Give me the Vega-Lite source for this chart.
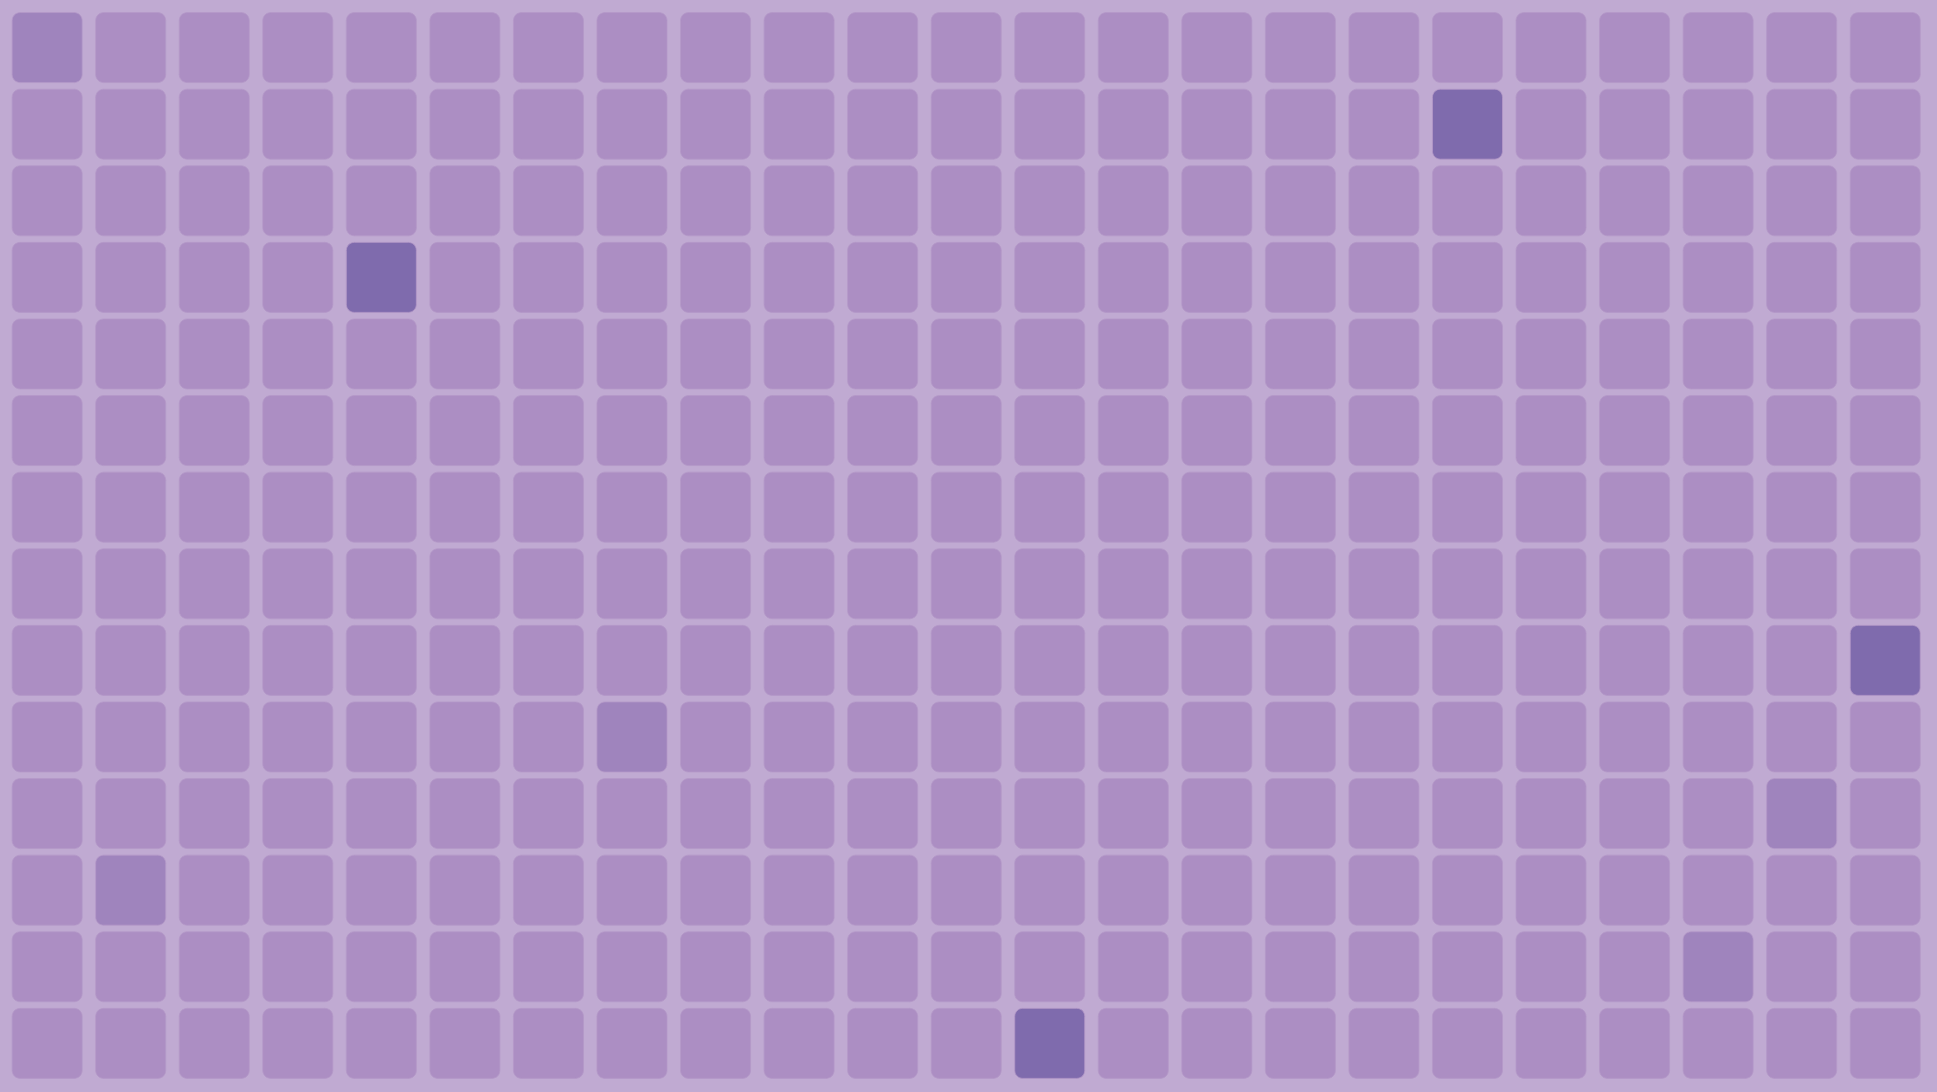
{
"$schema": "https://vega.github.io/schema/vega-lite/v6.json",
"width": 1937, "height": 1092, "autosize": "none", "padding": 0,
"background": "#C0AAD2",
"config": {"view": {"stroke": null}},
"data": {"values": [
{"c":0,"r":0,"v":2},{"c":1,"r":0,"v":1},{"c":2,"r":0,"v":1},{"c":3,"r":0,"v":1},{"c":4,"r":0,"v":1},{"c":5,"r":0,"v":1},{"c":6,"r":0,"v":1},{"c":7,"r":0,"v":1},{"c":8,"r":0,"v":1},{"c":9,"r":0,"v":1},{"c":10,"r":0,"v":1},{"c":11,"r":0,"v":1},{"c":12,"r":0,"v":1},{"c":13,"r":0,"v":1},{"c":14,"r":0,"v":1},{"c":15,"r":0,"v":1},{"c":16,"r":0,"v":1},{"c":17,"r":0,"v":1},{"c":18,"r":0,"v":1},{"c":19,"r":0,"v":1},{"c":20,"r":0,"v":1},{"c":21,"r":0,"v":1},{"c":22,"r":0,"v":1},
{"c":0,"r":1,"v":1},{"c":1,"r":1,"v":1},{"c":2,"r":1,"v":1},{"c":3,"r":1,"v":1},{"c":4,"r":1,"v":1},{"c":5,"r":1,"v":1},{"c":6,"r":1,"v":1},{"c":7,"r":1,"v":1},{"c":8,"r":1,"v":1},{"c":9,"r":1,"v":1},{"c":10,"r":1,"v":1},{"c":11,"r":1,"v":1},{"c":12,"r":1,"v":1},{"c":13,"r":1,"v":1},{"c":14,"r":1,"v":1},{"c":15,"r":1,"v":1},{"c":16,"r":1,"v":1},{"c":17,"r":1,"v":3},{"c":18,"r":1,"v":1},{"c":19,"r":1,"v":1},{"c":20,"r":1,"v":1},{"c":21,"r":1,"v":1},{"c":22,"r":1,"v":1},
{"c":0,"r":2,"v":1},{"c":1,"r":2,"v":1},{"c":2,"r":2,"v":1},{"c":3,"r":2,"v":1},{"c":4,"r":2,"v":1},{"c":5,"r":2,"v":1},{"c":6,"r":2,"v":1},{"c":7,"r":2,"v":1},{"c":8,"r":2,"v":1},{"c":9,"r":2,"v":1},{"c":10,"r":2,"v":1},{"c":11,"r":2,"v":1},{"c":12,"r":2,"v":1},{"c":13,"r":2,"v":1},{"c":14,"r":2,"v":1},{"c":15,"r":2,"v":1},{"c":16,"r":2,"v":1},{"c":17,"r":2,"v":1},{"c":18,"r":2,"v":1},{"c":19,"r":2,"v":1},{"c":20,"r":2,"v":1},{"c":21,"r":2,"v":1},{"c":22,"r":2,"v":1},
{"c":0,"r":3,"v":1},{"c":1,"r":3,"v":1},{"c":2,"r":3,"v":1},{"c":3,"r":3,"v":1},{"c":4,"r":3,"v":3},{"c":5,"r":3,"v":1},{"c":6,"r":3,"v":1},{"c":7,"r":3,"v":1},{"c":8,"r":3,"v":1},{"c":9,"r":3,"v":1},{"c":10,"r":3,"v":1},{"c":11,"r":3,"v":1},{"c":12,"r":3,"v":1},{"c":13,"r":3,"v":1},{"c":14,"r":3,"v":1},{"c":15,"r":3,"v":1},{"c":16,"r":3,"v":1},{"c":17,"r":3,"v":1},{"c":18,"r":3,"v":1},{"c":19,"r":3,"v":1},{"c":20,"r":3,"v":1},{"c":21,"r":3,"v":1},{"c":22,"r":3,"v":1},
{"c":0,"r":4,"v":1},{"c":1,"r":4,"v":1},{"c":2,"r":4,"v":1},{"c":3,"r":4,"v":1},{"c":4,"r":4,"v":1},{"c":5,"r":4,"v":1},{"c":6,"r":4,"v":1},{"c":7,"r":4,"v":1},{"c":8,"r":4,"v":1},{"c":9,"r":4,"v":1},{"c":10,"r":4,"v":1},{"c":11,"r":4,"v":1},{"c":12,"r":4,"v":1},{"c":13,"r":4,"v":1},{"c":14,"r":4,"v":1},{"c":15,"r":4,"v":1},{"c":16,"r":4,"v":1},{"c":17,"r":4,"v":1},{"c":18,"r":4,"v":1},{"c":19,"r":4,"v":1},{"c":20,"r":4,"v":1},{"c":21,"r":4,"v":1},{"c":22,"r":4,"v":1},
{"c":0,"r":5,"v":1},{"c":1,"r":5,"v":1},{"c":2,"r":5,"v":1},{"c":3,"r":5,"v":1},{"c":4,"r":5,"v":1},{"c":5,"r":5,"v":1},{"c":6,"r":5,"v":1},{"c":7,"r":5,"v":1},{"c":8,"r":5,"v":1},{"c":9,"r":5,"v":1},{"c":10,"r":5,"v":1},{"c":11,"r":5,"v":1},{"c":12,"r":5,"v":1},{"c":13,"r":5,"v":1},{"c":14,"r":5,"v":1},{"c":15,"r":5,"v":1},{"c":16,"r":5,"v":1},{"c":17,"r":5,"v":1},{"c":18,"r":5,"v":1},{"c":19,"r":5,"v":1},{"c":20,"r":5,"v":1},{"c":21,"r":5,"v":1},{"c":22,"r":5,"v":1},
{"c":0,"r":6,"v":1},{"c":1,"r":6,"v":1},{"c":2,"r":6,"v":1},{"c":3,"r":6,"v":1},{"c":4,"r":6,"v":1},{"c":5,"r":6,"v":1},{"c":6,"r":6,"v":1},{"c":7,"r":6,"v":1},{"c":8,"r":6,"v":1},{"c":9,"r":6,"v":1},{"c":10,"r":6,"v":1},{"c":11,"r":6,"v":1},{"c":12,"r":6,"v":1},{"c":13,"r":6,"v":1},{"c":14,"r":6,"v":1},{"c":15,"r":6,"v":1},{"c":16,"r":6,"v":1},{"c":17,"r":6,"v":1},{"c":18,"r":6,"v":1},{"c":19,"r":6,"v":1},{"c":20,"r":6,"v":1},{"c":21,"r":6,"v":1},{"c":22,"r":6,"v":1},
{"c":0,"r":7,"v":1},{"c":1,"r":7,"v":1},{"c":2,"r":7,"v":1},{"c":3,"r":7,"v":1},{"c":4,"r":7,"v":1},{"c":5,"r":7,"v":1},{"c":6,"r":7,"v":1},{"c":7,"r":7,"v":1},{"c":8,"r":7,"v":1},{"c":9,"r":7,"v":1},{"c":10,"r":7,"v":1},{"c":11,"r":7,"v":1},{"c":12,"r":7,"v":1},{"c":13,"r":7,"v":1},{"c":14,"r":7,"v":1},{"c":15,"r":7,"v":1},{"c":16,"r":7,"v":1},{"c":17,"r":7,"v":1},{"c":18,"r":7,"v":1},{"c":19,"r":7,"v":1},{"c":20,"r":7,"v":1},{"c":21,"r":7,"v":1},{"c":22,"r":7,"v":1},
{"c":0,"r":8,"v":1},{"c":1,"r":8,"v":1},{"c":2,"r":8,"v":1},{"c":3,"r":8,"v":1},{"c":4,"r":8,"v":1},{"c":5,"r":8,"v":1},{"c":6,"r":8,"v":1},{"c":7,"r":8,"v":1},{"c":8,"r":8,"v":1},{"c":9,"r":8,"v":1},{"c":10,"r":8,"v":1},{"c":11,"r":8,"v":1},{"c":12,"r":8,"v":1},{"c":13,"r":8,"v":1},{"c":14,"r":8,"v":1},{"c":15,"r":8,"v":1},{"c":16,"r":8,"v":1},{"c":17,"r":8,"v":1},{"c":18,"r":8,"v":1},{"c":19,"r":8,"v":1},{"c":20,"r":8,"v":1},{"c":21,"r":8,"v":1},{"c":22,"r":8,"v":3},
{"c":0,"r":9,"v":1},{"c":1,"r":9,"v":1},{"c":2,"r":9,"v":1},{"c":3,"r":9,"v":1},{"c":4,"r":9,"v":1},{"c":5,"r":9,"v":1},{"c":6,"r":9,"v":1},{"c":7,"r":9,"v":2},{"c":8,"r":9,"v":1},{"c":9,"r":9,"v":1},{"c":10,"r":9,"v":1},{"c":11,"r":9,"v":1},{"c":12,"r":9,"v":1},{"c":13,"r":9,"v":1},{"c":14,"r":9,"v":1},{"c":15,"r":9,"v":1},{"c":16,"r":9,"v":1},{"c":17,"r":9,"v":1},{"c":18,"r":9,"v":1},{"c":19,"r":9,"v":1},{"c":20,"r":9,"v":1},{"c":21,"r":9,"v":1},{"c":22,"r":9,"v":1},
{"c":0,"r":10,"v":1},{"c":1,"r":10,"v":1},{"c":2,"r":10,"v":1},{"c":3,"r":10,"v":1},{"c":4,"r":10,"v":1},{"c":5,"r":10,"v":1},{"c":6,"r":10,"v":1},{"c":7,"r":10,"v":1},{"c":8,"r":10,"v":1},{"c":9,"r":10,"v":1},{"c":10,"r":10,"v":1},{"c":11,"r":10,"v":1},{"c":12,"r":10,"v":1},{"c":13,"r":10,"v":1},{"c":14,"r":10,"v":1},{"c":15,"r":10,"v":1},{"c":16,"r":10,"v":1},{"c":17,"r":10,"v":1},{"c":18,"r":10,"v":1},{"c":19,"r":10,"v":1},{"c":20,"r":10,"v":1},{"c":21,"r":10,"v":2},{"c":22,"r":10,"v":1},
{"c":0,"r":11,"v":1},{"c":1,"r":11,"v":2},{"c":2,"r":11,"v":1},{"c":3,"r":11,"v":1},{"c":4,"r":11,"v":1},{"c":5,"r":11,"v":1},{"c":6,"r":11,"v":1},{"c":7,"r":11,"v":1},{"c":8,"r":11,"v":1},{"c":9,"r":11,"v":1},{"c":10,"r":11,"v":1},{"c":11,"r":11,"v":1},{"c":12,"r":11,"v":1},{"c":13,"r":11,"v":1},{"c":14,"r":11,"v":1},{"c":15,"r":11,"v":1},{"c":16,"r":11,"v":1},{"c":17,"r":11,"v":1},{"c":18,"r":11,"v":1},{"c":19,"r":11,"v":1},{"c":20,"r":11,"v":1},{"c":21,"r":11,"v":1},{"c":22,"r":11,"v":1},
{"c":0,"r":12,"v":1},{"c":1,"r":12,"v":1},{"c":2,"r":12,"v":1},{"c":3,"r":12,"v":1},{"c":4,"r":12,"v":1},{"c":5,"r":12,"v":1},{"c":6,"r":12,"v":1},{"c":7,"r":12,"v":1},{"c":8,"r":12,"v":1},{"c":9,"r":12,"v":1},{"c":10,"r":12,"v":1},{"c":11,"r":12,"v":1},{"c":12,"r":12,"v":1},{"c":13,"r":12,"v":1},{"c":14,"r":12,"v":1},{"c":15,"r":12,"v":1},{"c":16,"r":12,"v":1},{"c":17,"r":12,"v":1},{"c":18,"r":12,"v":1},{"c":19,"r":12,"v":1},{"c":20,"r":12,"v":2},{"c":21,"r":12,"v":1},{"c":22,"r":12,"v":1},
{"c":0,"r":13,"v":1},{"c":1,"r":13,"v":1},{"c":2,"r":13,"v":1},{"c":3,"r":13,"v":1},{"c":4,"r":13,"v":1},{"c":5,"r":13,"v":1},{"c":6,"r":13,"v":1},{"c":7,"r":13,"v":1},{"c":8,"r":13,"v":1},{"c":9,"r":13,"v":1},{"c":10,"r":13,"v":1},{"c":11,"r":13,"v":1},{"c":12,"r":13,"v":3},{"c":13,"r":13,"v":1},{"c":14,"r":13,"v":1},{"c":15,"r":13,"v":1},{"c":16,"r":13,"v":1},{"c":17,"r":13,"v":1},{"c":18,"r":13,"v":1},{"c":19,"r":13,"v":1},{"c":20,"r":13,"v":1},{"c":21,"r":13,"v":1},{"c":22,"r":13,"v":1}
]},
"mark": {"type": "rect", "cornerRadius": 8, "stroke": "#B498C8", "strokeWidth": 1, "strokeOpacity": 0.8},
"encoding": {
"x": {"field": "c", "type": "ordinal", "axis": null, "scale": {"paddingInner": 0.162, "paddingOuter": 0.173, "align": 0.42}},
"y": {"field": "r", "type": "ordinal", "axis": null, "scale": {"paddingInner": 0.086, "paddingOuter": 0.171, "align": 0.48}},
"color": {"field": "v", "type": "ordinal", "legend": null, "scale": {"domain": [1, 2, 3], "range": ["#AC8EC3", "#9F84BD", "#7F6BAD"]}}
}
}
